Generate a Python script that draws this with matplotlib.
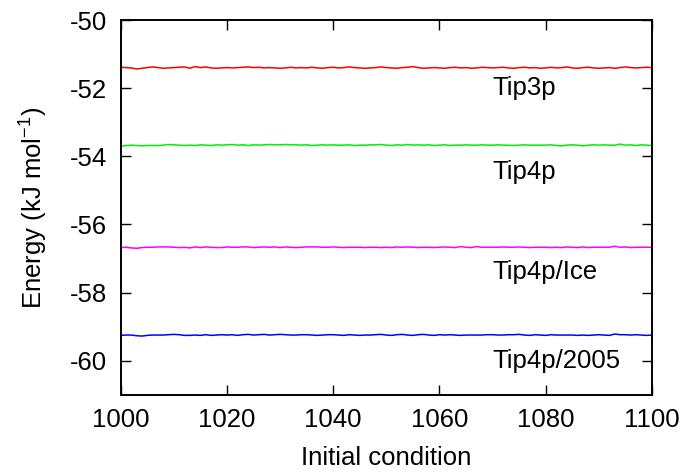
import numpy as np
import matplotlib
matplotlib.use("Agg")
import matplotlib.pyplot as plt

plt.rcParams['font.family'] = ['Liberation Sans', 'DejaVu Sans']
plt.rcParams['mathtext.default'] = 'regular'
plt.rcParams['axes.unicode_minus'] = False

# initial conditions 1000..1100
conditions = list(range(1000, 1101))

tip3p = [-51.38, -51.39, -51.40, -51.43, -51.41, -51.39, -51.37, -51.39, -51.41, -51.40,
         -51.39, -51.38, -51.37, -51.41, -51.36, -51.39, -51.37, -51.40, -51.41, -51.40,
         -51.39, -51.40, -51.39, -51.38, -51.37, -51.39, -51.38, -51.40, -51.39, -51.40,
         -51.41, -51.40, -51.38, -51.40, -51.39, -51.40, -51.38, -51.40, -51.41, -51.39,
         -51.38, -51.40, -51.39, -51.37, -51.39, -51.40, -51.41, -51.40, -51.39, -51.37,
         -51.39, -51.40, -51.41, -51.39, -51.38, -51.36, -51.39, -51.41, -51.40, -51.39,
         -51.40, -51.41, -51.39, -51.38, -51.40, -51.39, -51.41, -51.40, -51.38, -51.39,
         -51.40, -51.39, -51.38, -51.40, -51.41, -51.39, -51.38, -51.40, -51.39, -51.41,
         -51.40, -51.38, -51.40, -51.39, -51.37, -51.40, -51.41, -51.39, -51.38, -51.40,
         -51.41, -51.40, -51.39, -51.41, -51.39, -51.37, -51.39, -51.40, -51.39, -51.38,
         -51.39]

tip4p = [-53.70, -53.68, -53.67, -53.68, -53.69, -53.68, -53.68, -53.68, -53.67, -53.65,
         -53.66, -53.67, -53.68, -53.67, -53.68, -53.66, -53.67, -53.68, -53.66, -53.67,
         -53.66, -53.65, -53.67, -53.66, -53.68, -53.66, -53.67, -53.66, -53.65, -53.66,
         -53.66, -53.65, -53.66, -53.66, -53.67, -53.66, -53.68, -53.67, -53.66, -53.67,
         -53.66, -53.67, -53.67, -53.66, -53.68, -53.67, -53.67, -53.66, -53.66, -53.65,
         -53.67, -53.68, -53.66, -53.67, -53.65, -53.67, -53.66, -53.67, -53.66, -53.68,
         -53.67, -53.66, -53.68, -53.67, -53.67, -53.66, -53.67, -53.67, -53.66, -53.67,
         -53.67, -53.66, -53.67, -53.67, -53.68, -53.67, -53.66, -53.67, -53.67, -53.67,
         -53.67, -53.66, -53.68, -53.69, -53.67, -53.66, -53.67, -53.69, -53.67, -53.66,
         -53.67, -53.66, -53.67, -53.67, -53.64, -53.67, -53.66, -53.68, -53.66, -53.67,
         -53.68]

tip4p_ice = [-56.68, -56.67, -56.69, -56.70, -56.68, -56.67, -56.67, -56.66, -56.66, -56.66,
             -56.67, -56.68, -56.67, -56.69, -56.66, -56.68, -56.66, -56.67, -56.68, -56.68,
             -56.66, -56.67, -56.67, -56.66, -56.66, -56.68, -56.67, -56.66, -56.67, -56.66,
             -56.68, -56.66, -56.67, -56.68, -56.67, -56.66, -56.66, -56.66, -56.67, -56.67,
             -56.66, -56.67, -56.68, -56.67, -56.67, -56.67, -56.68, -56.67, -56.67, -56.68,
             -56.67, -56.68, -56.66, -56.67, -56.66, -56.67, -56.68, -56.67, -56.67, -56.68,
             -56.67, -56.66, -56.67, -56.68, -56.65, -56.67, -56.68, -56.65, -56.67, -56.67,
             -56.67, -56.67, -56.66, -56.67, -56.67, -56.66, -56.67, -56.68, -56.67, -56.67,
             -56.67, -56.68, -56.67, -56.68, -56.66, -56.67, -56.68, -56.66, -56.68, -56.67,
             -56.67, -56.67, -56.67, -56.64, -56.67, -56.66, -56.68, -56.67, -56.67, -56.67,
             -56.67]

tip4p_2005 = [-59.26, -59.25, -59.25, -59.27, -59.28, -59.26, -59.25, -59.25, -59.25, -59.24,
              -59.23, -59.24, -59.26, -59.26, -59.25, -59.26, -59.24, -59.26, -59.25, -59.24,
              -59.25, -59.24, -59.26, -59.24, -59.23, -59.25, -59.24, -59.23, -59.25, -59.24,
              -59.23, -59.24, -59.25, -59.25, -59.24, -59.24, -59.25, -59.26, -59.25, -59.24,
              -59.24, -59.25, -59.26, -59.24, -59.25, -59.26, -59.25, -59.25, -59.24, -59.23,
              -59.25, -59.26, -59.24, -59.23, -59.25, -59.26, -59.24, -59.23, -59.25, -59.26,
              -59.24, -59.25, -59.24, -59.25, -59.26, -59.25, -59.25, -59.25, -59.25, -59.24,
              -59.24, -59.25, -59.25, -59.24, -59.24, -59.23, -59.25, -59.26, -59.24, -59.25,
              -59.26, -59.24, -59.25, -59.25, -59.25, -59.25, -59.26, -59.25, -59.26, -59.25,
              -59.24, -59.25, -59.26, -59.22, -59.24, -59.24, -59.25, -59.24, -59.25, -59.26,
              -59.25]

names = ['Tip3p', 'Tip4p', 'Tip4p/Ice', 'Tip4p/2005']
label_y = [-52.0, -54.45, -57.4, -60.0]
colors = ['#ff0000', '#00ee00', '#ff00ff', '#0000ff']

fig = plt.figure(figsize=(6.87, 4.72), dpi=100)
ax = fig.add_axes([0.1757, 0.164, 0.7733, 0.793])

for series, name, ly, c in zip([tip3p, tip4p, tip4p_ice, tip4p_2005], names, label_y, colors):
    ax.plot(conditions, series, color=c, lw=1.1)
    ax.text(1070, ly, name, fontsize=18.5, va='center', ha='left')

ax.set_xlim(1000, 1100)
ax.set_ylim(-61, -50)
ax.set_xticks(np.arange(1000, 1101, 20))
ax.set_yticks(np.arange(-60, -49, 2))
ax.tick_params(direction='in', length=7, width=1, labelsize=18.5,
               top=True, right=True, pad=10)
for s in ax.spines.values():
    s.set_linewidth(1.4)

ax.set_xlabel('Initial condition', fontsize=18.5, labelpad=10)
ax.set_ylabel('Energy (kJ mol$^{-1}$)', fontsize=18.5, labelpad=14)

fig.savefig('out.png', dpi=100)
